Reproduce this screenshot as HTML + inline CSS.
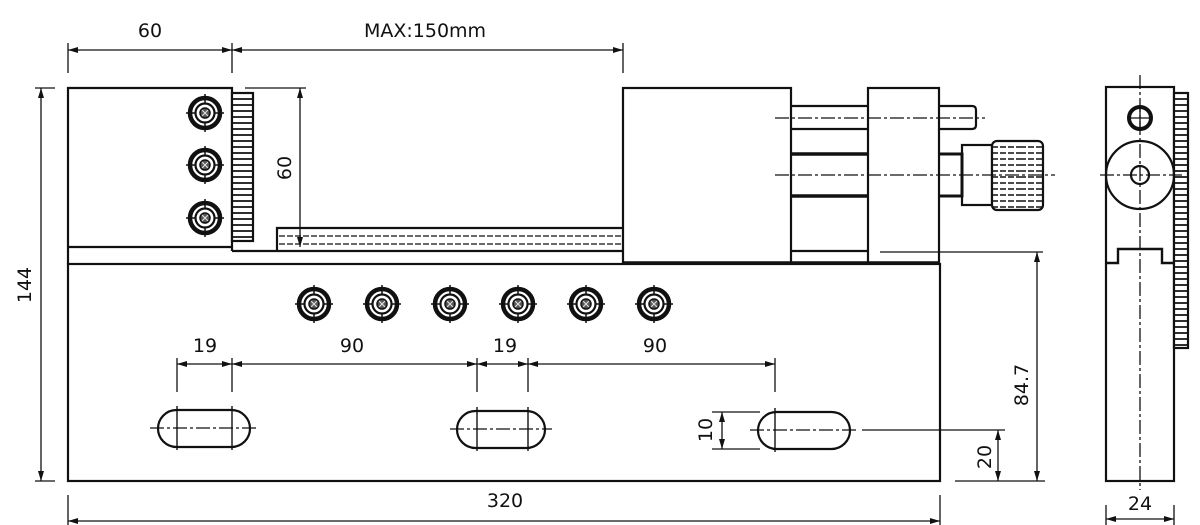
<!DOCTYPE html>
<html><head><meta charset="utf-8"><style>
html,body{margin:0;padding:0;background:#fff;}
svg{display:block;}
text{font-family:"DejaVu Sans","Liberation Sans",sans-serif;font-size:19px;fill:#111;}
</style></head><body>
<svg width="1200" height="525" viewBox="0 0 1200 525" xmlns="http://www.w3.org/2000/svg">
<defs>
<marker id="a" viewBox="0 0 10 6" refX="10" refY="3" markerWidth="10" markerHeight="6" orient="auto-start-reverse" markerUnits="userSpaceOnUse"><path d="M0,0L10,3L0,6z" fill="#111"/></marker>
<g id="scr">
<circle r="15" fill="none" stroke="#111" stroke-width="4.5"/>
<circle r="9.5" fill="none" stroke="#111" stroke-width="2.2"/>
<circle r="5" fill="#555" stroke="#111" stroke-width="1.5"/>
<path d="M-3,-3L3,3M-3,3L3,-3" stroke="#ddd" stroke-width="1.2"/>
<path d="M-19,0H-9M9,0H19M0,-19V-9M0,9V19" stroke="#111" stroke-width="1.5"/>
</g>
<pattern id="ser" width="20" height="6" patternUnits="userSpaceOnUse"><rect width="20" height="6" fill="#fff"/><line x1="0" y1="3" x2="20" y2="3" stroke="#111" stroke-width="1.8"/></pattern>
<pattern id="kn" width="60" height="6" patternUnits="userSpaceOnUse"><rect width="60" height="6" fill="#fff"/><line x1="0" y1="3" x2="60" y2="3" stroke="#111" stroke-width="1.5" stroke-dasharray="6 2"/></pattern>
</defs>
<g fill="none" stroke="#111" stroke-width="2.2">
<rect x="68" y="264" width="872" height="217"/>
<path d="M68,264V88H232V251"/>
<line x1="68" y1="247" x2="232" y2="247"/>
<rect x="232" y="93" width="21" height="148" fill="url(#ser)"/>
<line x1="232" y1="251" x2="623" y2="251"/>
<path d="M277,251V228H623"/>
<line x1="279" y1="236" x2="623" y2="236" stroke-width="1.3" stroke-dasharray="6 2"/>
<line x1="279" y1="244" x2="623" y2="244" stroke-width="1.3" stroke-dasharray="6 2"/>
<rect x="623" y="88" width="168" height="175"/>
<line x1="623" y1="263" x2="940" y2="263" stroke-width="3.5"/>
<line x1="791" y1="106" x2="868" y2="106"/>
<line x1="791" y1="129" x2="868" y2="129"/>
<line x1="791" y1="154" x2="868" y2="154" stroke-width="3.5"/>
<line x1="791" y1="196" x2="868" y2="196" stroke-width="3.5"/>
<line x1="791" y1="251" x2="868" y2="251"/>
<rect x="868" y="88" width="71" height="175"/>
<path d="M939,106H972Q976,106 976,110V125Q976,129 972,129H939"/>
<path d="M939,154H962V196H939" stroke-width="3"/>
<rect x="962" y="145" width="30" height="60"/>
<rect x="992" y="141" width="51" height="69" rx="5" fill="url(#kn)"/>
<rect x="1106" y="87" width="68" height="394"/>
<rect x="1174" y="93" width="14" height="255" fill="url(#ser)"/>
<circle cx="1140" cy="118" r="11" stroke-width="4"/>
<circle cx="1140" cy="175" r="34"/>
<circle cx="1140" cy="175" r="9"/>
<path d="M1106,263H1118V249H1162V263H1174" stroke-width="2.4"/>
<rect x="158" y="410" width="92" height="37" rx="18.5"/>
<rect x="457" y="411" width="88" height="37" rx="18.5"/>
<rect x="758" y="412" width="92" height="37" rx="18.5"/>
</g>
<g stroke="#111" stroke-width="1.4" fill="none">
<path d="M177,406V450M232,406V450M477,407V451M528,407V451M775,408V452"/>
</g>
<g stroke="#111" stroke-width="1.3" stroke-dasharray="14 3 3 3" fill="none">
<line x1="775" y1="118" x2="985" y2="118"/>
<line x1="775" y1="175" x2="1055" y2="175"/>
<line x1="1140" y1="75" x2="1140" y2="490"/>
<line x1="1100" y1="175" x2="1182" y2="175"/>
<line x1="1128" y1="118" x2="1152" y2="118" stroke-dasharray="none"/>
<line x1="1140" y1="106" x2="1140" y2="130" stroke-dasharray="none"/>
<line x1="150" y1="428" x2="258" y2="428"/>
<line x1="450" y1="429" x2="552" y2="429"/>
<line x1="750" y1="430" x2="858" y2="430"/>
</g>
<use href="#scr" x="205" y="113"/><use href="#scr" x="205" y="165"/><use href="#scr" x="205" y="218"/>
<use href="#scr" x="314" y="304"/><use href="#scr" x="382" y="304"/><use href="#scr" x="450" y="304"/>
<use href="#scr" x="518" y="304"/><use href="#scr" x="586" y="304"/><use href="#scr" x="654" y="304"/>
<g stroke="#111" stroke-width="1.3" fill="none">
<path d="M68,43V73M232,43V73M623,43V73"/>
<line x1="68" y1="50" x2="232" y2="50" marker-start="url(#a)" marker-end="url(#a)"/>
<line x1="232" y1="50" x2="623" y2="50" marker-start="url(#a)" marker-end="url(#a)"/>
<path d="M35,88H55M35,481H55"/>
<line x1="41" y1="88" x2="41" y2="481" marker-start="url(#a)" marker-end="url(#a)"/>
<path d="M245,88H306"/>
<line x1="300" y1="88" x2="300" y2="247" marker-start="url(#a)" marker-end="url(#a)"/>
<path d="M177,358V392M232,358V392M477,358V392M528,358V392M775,358V392"/>
<line x1="177" y1="364" x2="232" y2="364" marker-start="url(#a)" marker-end="url(#a)"/>
<line x1="232" y1="364" x2="477" y2="364" marker-start="url(#a)" marker-end="url(#a)"/>
<line x1="477" y1="364" x2="528" y2="364" marker-start="url(#a)" marker-end="url(#a)"/>
<line x1="528" y1="364" x2="775" y2="364" marker-start="url(#a)" marker-end="url(#a)"/>
<path d="M712,412H760M712,449H760"/>
<line x1="722" y1="412" x2="722" y2="449" marker-start="url(#a)" marker-end="url(#a)"/>
<path d="M862,430H1005M955,481H1045M880,252H1043"/>
<line x1="998" y1="430" x2="998" y2="481" marker-start="url(#a)" marker-end="url(#a)"/>
<line x1="1037" y1="252" x2="1037" y2="481" marker-start="url(#a)" marker-end="url(#a)"/>
<path d="M68,495V525M940,495V525M1106,505V525M1174,505V525"/>
<line x1="68" y1="521" x2="940" y2="521" marker-start="url(#a)" marker-end="url(#a)"/>
<line x1="1106" y1="519" x2="1174" y2="519" marker-start="url(#a)" marker-end="url(#a)"/>
</g>
<text x="150" y="37" text-anchor="middle">60</text>
<text x="425" y="37" text-anchor="middle">MAX:150mm</text>
<text transform="translate(291,168) rotate(-90)" text-anchor="middle">60</text>
<text transform="translate(31,285) rotate(-90)" text-anchor="middle">144</text>
<text x="205" y="352" text-anchor="middle">19</text>
<text x="352" y="352" text-anchor="middle">90</text>
<text x="505" y="352" text-anchor="middle">19</text>
<text x="655" y="352" text-anchor="middle">90</text>
<text transform="translate(712,430) rotate(-90)" text-anchor="middle">10</text>
<text transform="translate(991,457) rotate(-90)" text-anchor="middle">20</text>
<text transform="translate(1028,385) rotate(-90)" text-anchor="middle">84.7</text>
<text x="505" y="507" text-anchor="middle">320</text>
<text x="1140" y="510" text-anchor="middle">24</text>
</svg>
</body></html>
